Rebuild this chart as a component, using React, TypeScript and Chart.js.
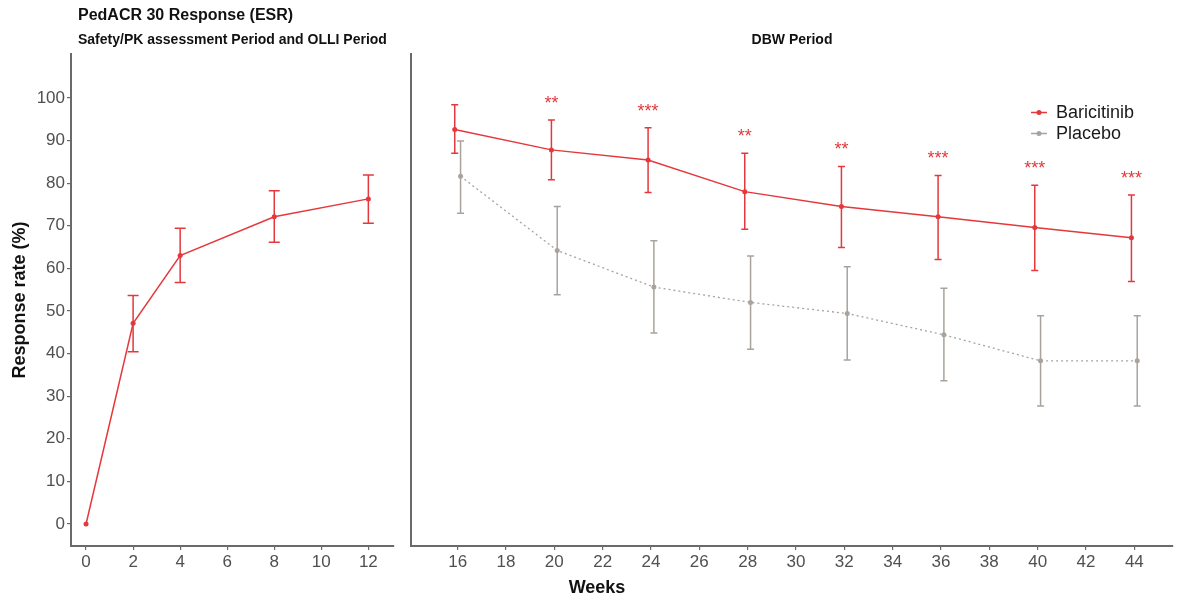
import React, { useEffect, useRef } from "react";
import { Chart, registerables } from "chart.js";

Chart.register(...registerables);

// ---------- data ----------
const olliWeeks = [0, 2, 4, 8, 12];
const olliBari = [0, 47.1, 63.0, 72.1, 76.3];
const olliBariLo = [null, 40.4, 56.7, 66.1, 70.6];
const olliBariHi = [null, 53.6, 69.4, 78.2, 81.9];
const olliTicks = [0, 2, 4, 6, 8, 10, 12];

const dbwWeeks = [16, 20, 24, 28, 32, 36, 40, 44];
const dbwBari = [92.6, 87.8, 85.4, 78.0, 74.5, 72.1, 69.6, 67.2];
const dbwBariLo = [87.0, 80.8, 77.8, 69.2, 64.9, 62.1, 59.5, 56.9];
const dbwBariHi = [98.4, 94.8, 93.0, 87.0, 83.9, 81.8, 79.5, 77.2];
const dbwPlacebo = [81.6, 64.2, 55.6, 52.0, 49.4, 44.4, 38.3, 38.3];
const dbwPlaceboLo = [72.9, 53.8, 44.8, 41.0, 38.5, 33.6, 27.7, 27.7];
const dbwPlaceboHi = [89.9, 74.5, 66.5, 62.9, 60.4, 55.3, 48.9, 48.9];
const dbwSignif = ["", "**", "***", "**", "**", "***", "***", "***"];
const dbwTicks = [16, 18, 20, 22, 24, 26, 28, 30, 32, 34, 36, 38, 40, 42, 44];

const yTicks = [0, 10, 20, 30, 40, 50, 60, 70, 80, 90, 100];

const seriesNames = ["Baricitinib", "Placebo"];

// ---------- styles ----------
const FONT = "'Liberation Sans', Arial, sans-serif";
const RED = "#e4383c";
const GREY = "#a9a39d";
const AXIS = "#6a6a6a";
const TICKTXT = "#505050";
const DODGE = 0.12;

const errorBarPlugin = {
  id: "errorBars",
  afterDatasetsDraw(chart: any) {
    const ctx = chart.ctx;
    const yScale = chart.scales.y;
    chart.data.datasets.forEach((ds: any, i: number) => {
      const meta = chart.getDatasetMeta(i);
      if (!ds.errLo) return;
      ctx.save();
      ctx.strokeStyle = ds.borderColor;
      ctx.lineWidth = 1.5;
      meta.data.forEach((pt: any, j: number) => {
        const lo = ds.errLo[j];
        const hi = ds.errHi[j];
        if (lo == null || hi == null) return;
        const x = pt.x;
        const y1 = yScale.getPixelForValue(lo);
        const y2 = yScale.getPixelForValue(hi);
        const cw = ds.capWidth / 2;
        ctx.beginPath();
        ctx.moveTo(x, y1);
        ctx.lineTo(x, y2);
        ctx.moveTo(x - cw, y1);
        ctx.lineTo(x + cw, y1);
        ctx.moveTo(x - cw, y2);
        ctx.lineTo(x + cw, y2);
        ctx.stroke();
      });
      ctx.restore();
    });
  },
};

const leftTextPlugin = {
  id: "leftText",
  afterDraw(chart: any) {
    const ctx = chart.ctx;
    ctx.save();
    ctx.fillStyle = "#111";
    ctx.textAlign = "left";
    ctx.textBaseline = "alphabetic";
    ctx.font = `bold 16px ${FONT}`;
    ctx.fillText("PedACR 30 Response (ESR)", 78, 20);
    ctx.font = `bold 14px ${FONT}`;
    ctx.fillText("Safety/PK assessment Period and OLLI Period", 78, 44);
    ctx.restore();
  },
};

const rightTextPlugin = {
  id: "rightText",
  afterDraw(chart: any) {
    const ctx = chart.ctx;
    const yScale = chart.scales.y;
    const area = chart.chartArea;
    ctx.save();
    // panel title
    ctx.fillStyle = "#111";
    ctx.textAlign = "center";
    ctx.textBaseline = "alphabetic";
    ctx.font = `bold 14px ${FONT}`;
    ctx.fillText("DBW Period", (area.left + area.right) / 2, 44);
    // x title spanning both panels
    ctx.font = `bold 18px ${FONT}`;
    ctx.fillText("Weeks", 197, 593);
    // significance stars
    const meta = chart.getDatasetMeta(0);
    ctx.fillStyle = RED;
    ctx.font = `18px ${FONT}`;
    meta.data.forEach((pt: any, j: number) => {
      const s = dbwSignif[j];
      if (!s) return;
      const y = yScale.getPixelForValue(dbwBariHi[j]) - 11;
      ctx.fillText(s, pt.x, y);
    });
    // legend
    const colors = [RED, GREY];
    const rows = [112.5, 133.5];
    seriesNames.forEach((name, k) => {
      const y = rows[k];
      ctx.strokeStyle = colors[k];
      ctx.fillStyle = colors[k];
      ctx.lineWidth = 1.5;
      ctx.beginPath();
      ctx.moveTo(631, y);
      ctx.lineTo(647, y);
      ctx.stroke();
      ctx.beginPath();
      ctx.arc(639, y, 2.5, 0, Math.PI * 2);
      ctx.fill();
      ctx.fillStyle = "#1a1a1a";
      ctx.textAlign = "left";
      ctx.textBaseline = "middle";
      ctx.font = `18px ${FONT}`;
      ctx.fillText(name, 656, y + 1);
    });
    ctx.restore();
  },
};

function axisCommon(ticks: number[]) {
  return {
    type: "linear" as const,
    afterBuildTicks: (s: any) => {
      s.ticks = ticks.map((v) => ({ value: v }));
    },
    ticks: {
      color: TICKTXT,
      font: { size: 17, family: FONT },
      padding: 2,
      autoSkip: false,
      maxRotation: 0,
    },
    grid: {
      display: true,
      drawOnChartArea: false,
      drawTicks: true,
      tickLength: 4,
      color: AXIS,
      lineWidth: 1.2,
    },
    border: { display: true, color: AXIS, width: 2 },
  };
}

export default function App() {
  const leftRef = useRef<HTMLCanvasElement | null>(null);
  const rightRef = useRef<HTMLCanvasElement | null>(null);

  useEffect(() => {
    const left = new Chart(leftRef.current as HTMLCanvasElement, {
      type: "line",
      data: {
        datasets: [
          {
            label: seriesNames[0],
            data: olliWeeks.map((w, i) => ({ x: w, y: olliBari[i] })),
            borderColor: RED,
            backgroundColor: RED,
            borderWidth: 1.5,
            pointRadius: 2.5,
            pointBorderWidth: 0,
            tension: 0,
            errLo: olliBariLo,
            errHi: olliBariHi,
            capWidth: 11,
          } as any,
        ],
      },
      options: {
        responsive: false,
        animation: false,
        layout: { padding: { left: 0, right: 6, top: 54, bottom: 0 } },
        plugins: { legend: { display: false }, tooltip: { enabled: false } },
        scales: {
          x: {
            ...axisCommon(olliTicks),
            min: -0.64,
            max: 13.09,
            afterFit: (s: any) => {
              s.height = 52;
            },
          },
          y: {
            ...axisCommon(yTicks),
            min: -5.16,
            max: 110.3,
            title: {
              display: true,
              text: "Response rate (%)",
              color: "#111",
              font: { size: 18, weight: "bold", family: FONT },
              padding: { top: 9, bottom: 0 },
            },
            afterFit: (s: any) => {
              s.width = 71;
            },
          },
        },
      } as any,
      plugins: [errorBarPlugin, leftTextPlugin],
    });

    const right = new Chart(rightRef.current as HTMLCanvasElement, {
      type: "line",
      data: {
        datasets: [
          {
            label: seriesNames[0],
            data: dbwWeeks.map((w, i) => ({ x: w - DODGE, y: dbwBari[i] })),
            borderColor: RED,
            backgroundColor: RED,
            borderWidth: 1.5,
            pointRadius: 2.5,
            pointBorderWidth: 0,
            tension: 0,
            errLo: dbwBariLo,
            errHi: dbwBariHi,
            capWidth: 7,
          } as any,
          {
            label: seriesNames[1],
            data: dbwWeeks.map((w, i) => ({ x: w + DODGE, y: dbwPlacebo[i] })),
            borderColor: GREY,
            backgroundColor: GREY,
            borderWidth: 1.3,
            borderDash: [2, 3],
            pointRadius: 2.5,
            pointBorderWidth: 0,
            tension: 0,
            errLo: dbwPlaceboLo,
            errHi: dbwPlaceboHi,
            capWidth: 7,
          } as any,
        ],
      },
      options: {
        responsive: false,
        animation: false,
        layout: { padding: { left: 0, right: 0, top: 54, bottom: 0 } },
        plugins: { legend: { display: false }, tooltip: { enabled: false } },
        scales: {
          x: {
            ...axisCommon(dbwTicks),
            min: 14.07,
            max: 45.6,
            afterFit: (s: any) => {
              s.height = 52;
            },
          },
          y: {
            type: "linear",
            min: -5.16,
            max: 110.3,
            afterBuildTicks: (s: any) => {
              s.ticks = yTicks.map((v) => ({ value: v }));
            },
            ticks: { display: false },
            grid: { display: false },
            border: { display: true, color: AXIS, width: 2 },
            afterFit: (s: any) => {
              s.width = 11;
            },
          },
        },
      } as any,
      plugins: [errorBarPlugin, rightTextPlugin],
    });

    return () => {
      left.destroy();
      right.destroy();
    };
  }, []);

  return (
    <div
      style={{
        position: "absolute",
        left: 0,
        top: 0,
        width: 1177,
        height: 598,
        background: "#fff",
      }}
    >
      <canvas
        ref={leftRef}
        width={400}
        height={598}
        style={{ position: "absolute", left: 0, top: 0, display: "block" }}
      />
      <canvas
        ref={rightRef}
        width={777}
        height={598}
        style={{ position: "absolute", left: 400, top: 0, display: "block" }}
      />
    </div>
  );
}
